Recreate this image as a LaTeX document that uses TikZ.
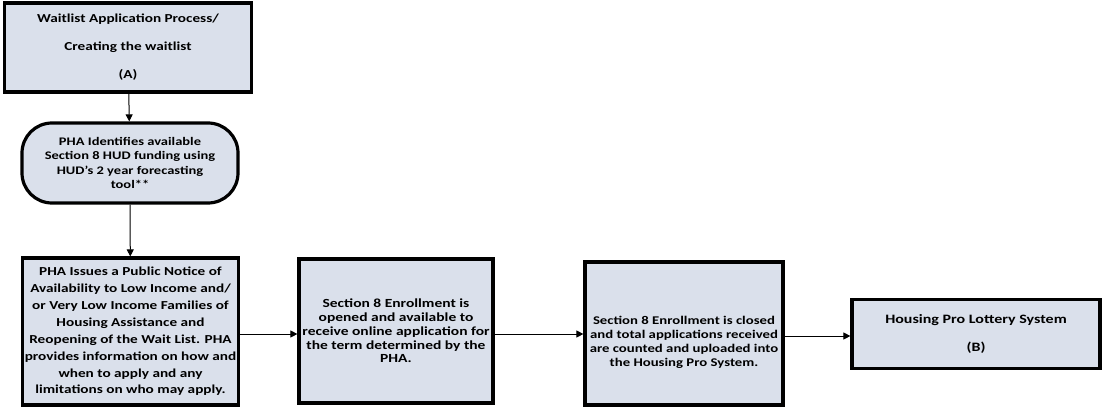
\documentclass[tikz,border=0pt]{standalone}
\usepackage{fontspec}
\setmainfont[FakeStretch=1.25]{Carlito}
\usetikzlibrary{arrows.meta}
\definecolor{boxfill}{HTML}{DAE0EB}
\tikzset{
  stepbox/.style={draw=black, line width=3.2pt, fill=boxfill, align=center, inner sep=2pt},
  roundbox/.style={stepbox, rounded corners=30pt},
  flow/.style={draw=black, line width=1pt, -{Triangle[length=7pt,width=7pt]}}
}
\newcommand{\boxfont}[2]{\bfseries\fontsize{#1}{#2}\selectfont}
\begin{document}
\begin{tikzpicture}[x=1pt,y=-1pt]
\useasboundingbox (0,0) rectangle (1102,412);
\fill[white] (0,0) rectangle (1102,412);

\node[stepbox, minimum width=247pt, minimum height=89pt, font=\boxfont{12.2}{28}] (start) at (128,47.5)
  {Waitlist Application Process/\\Creating the waitlist\\(A)};

\node[roundbox, minimum width=216pt, minimum height=80pt, font=\boxfont{11.6}{14.5}] (fund) at (130,163)
  {PHA Identifies available\\Section 8 HUD funding using\\HUD's 2 year forecasting\\tool**};

\node[stepbox, minimum width=215pt, minimum height=147pt, font=\boxfont{12.2}{16.9}] (notice) at (130.5,331.5)
  {PHA Issues a Public Notice of\\Availability to Low Income and/\\or Very Low Income Families of\\Housing Assistance and\\Reopening of the Wait List. PHA\\provides information on how and\\when to apply and any\\limitations on who may apply.};

\node[stepbox, minimum width=194pt, minimum height=144pt, font=\boxfont{12.4}{13.8}] (open) at (396,331)
  {Section 8 Enrollment is\\opened and available to\\receive online application for\\the term determined by the\\PHA.};

% the strut on the first line sets this text a little below the box centre
\node[stepbox, minimum width=198pt, minimum height=143pt, font=\boxfont{11.8}{14}] (closed) at (684,333.5)
  {\rule{0pt}{25pt}Section 8 Enrollment is closed\\and total applications received\\are counted and uploaded into\\the Housing Pro System.};

\node[stepbox, minimum width=248pt, minimum height=69pt, font=\boxfont{12.8}{28}] (lottery) at (976,334)
  {Housing Pro Lottery System\\(B)};

\draw[flow] (start) -- (fund);
\draw[flow] (fund) -- (notice);
\draw[flow] (notice.east |- 0,334) -- (open.west |- 0,334);
\draw[flow] (open.east |- 0,334) -- (closed.west |- 0,334);
\draw[flow] (closed.east |- 0,336) -- (lottery.west |- 0,336);
\end{tikzpicture}
\end{document}
